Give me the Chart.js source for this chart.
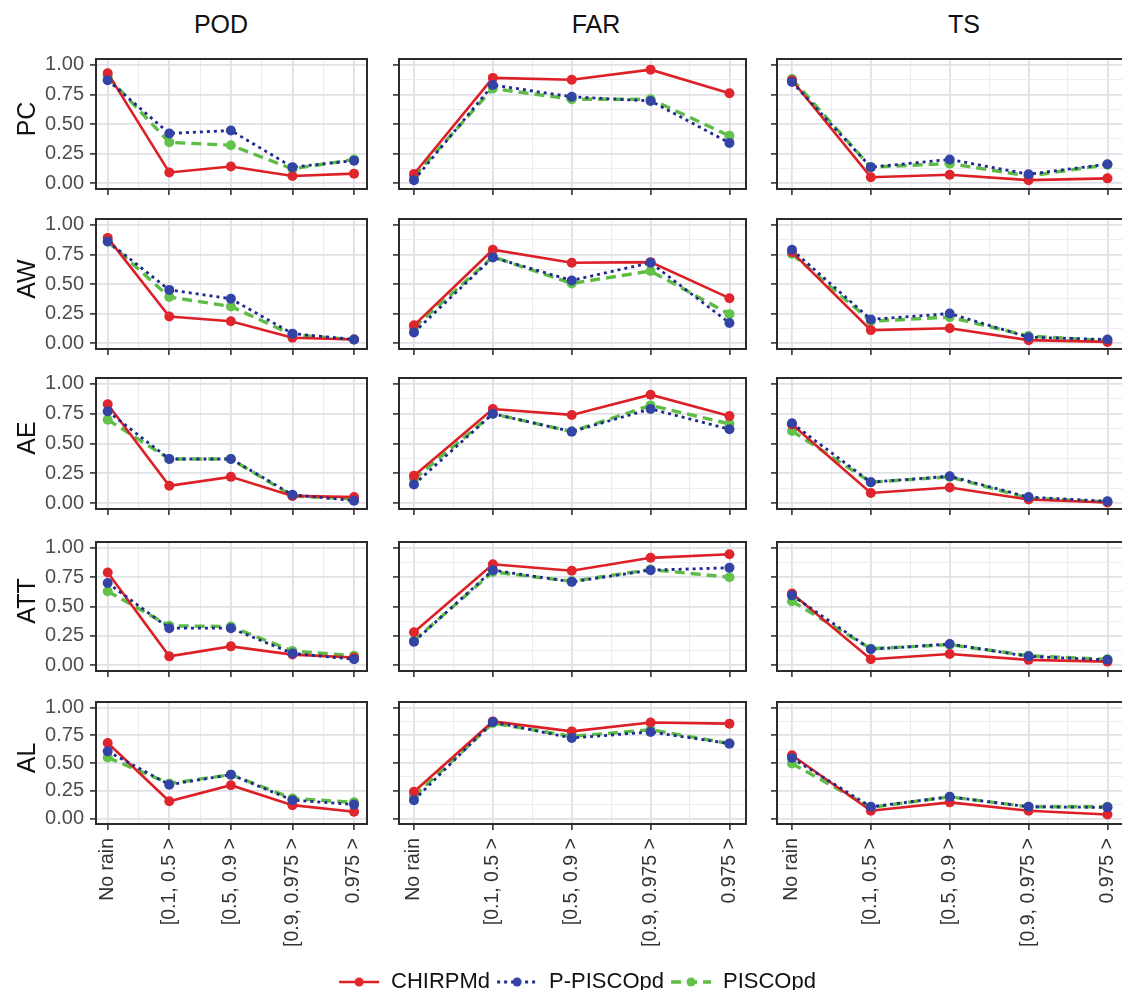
<!DOCTYPE html>
<html><head><meta charset="utf-8">
<script src="https://cdn.jsdelivr.net/npm/chart.js@4.4.1/dist/chart.umd.min.js"></script>
<style>
html,body{margin:0;padding:0;background:#fff;overflow:hidden;width:1122px;height:1001px;}
#wrap{position:relative;width:1122px;height:1001px;overflow:hidden;font-family:"Liberation Sans",Arial,sans-serif;background:#fff;}
canvas{position:absolute;}
.t{position:absolute;font-size:25px;color:#111;white-space:nowrap;transform:translate(-50%,-50%);}
.r{position:absolute;font-size:25px;color:#111;white-space:nowrap;transform:translate(-50%,-50%) rotate(-90deg);}
</style></head>
<body><div id="wrap"></div>
<script>
// ---------- data ----------
const categories = ["No rain", "[0.1, 0.5 >", "[0.5, 0.9 >", "[0.9, 0.975 >", "0.975 >"];
const metrics = ["POD", "FAR", "TS"];
const regions = ["PC", "AW", "AE", "ATT", "AL"];
const seriesNames = ["CHIRPMd", "P-PISCOpd", "PISCOpd"];
const yTickValues = [0, 0.25, 0.5, 0.75, 1];

// rows follow regions: PC, AW, AE, ATT, AL
const CHIRPMd_POD = [
  [0.93, 0.09, 0.14, 0.06, 0.08],
  [0.89, 0.225, 0.185, 0.045, 0.03],
  [0.83, 0.145, 0.22, 0.06, 0.05],
  [0.79, 0.075, 0.16, 0.09, 0.065],
  [0.68, 0.155, 0.30, 0.12, 0.06]
];
const PPISCOpd_POD = [
  [0.87, 0.42, 0.445, 0.135, 0.19],
  [0.86, 0.45, 0.375, 0.08, 0.03],
  [0.77, 0.37, 0.37, 0.07, 0.02],
  [0.70, 0.315, 0.315, 0.10, 0.05],
  [0.605, 0.305, 0.395, 0.165, 0.125]
];
const PISCOpd_POD = [
  [0.90, 0.345, 0.32, 0.12, 0.20],
  [0.86, 0.39, 0.31, 0.07, 0.03],
  [0.70, 0.37, 0.37, 0.06, 0.035],
  [0.63, 0.335, 0.33, 0.12, 0.08],
  [0.55, 0.315, 0.395, 0.18, 0.145]
];
const CHIRPMd_FAR = [
  [0.077, 0.89, 0.875, 0.96, 0.76],
  [0.15, 0.79, 0.68, 0.685, 0.38],
  [0.23, 0.79, 0.74, 0.91, 0.73],
  [0.28, 0.86, 0.805, 0.915, 0.945],
  [0.24, 0.875, 0.785, 0.865, 0.855]
];
const PPISCOpd_FAR = [
  [0.025, 0.83, 0.73, 0.695, 0.34],
  [0.09, 0.725, 0.53, 0.68, 0.17],
  [0.155, 0.75, 0.60, 0.79, 0.62],
  [0.20, 0.81, 0.71, 0.81, 0.83],
  [0.165, 0.87, 0.725, 0.78, 0.675]
];
const PISCOpd_FAR = [
  [0.057, 0.80, 0.71, 0.71, 0.40],
  [0.13, 0.73, 0.505, 0.61, 0.245],
  [0.20, 0.75, 0.60, 0.82, 0.665],
  [0.21, 0.795, 0.715, 0.815, 0.75],
  [0.20, 0.86, 0.74, 0.80, 0.675]
];
const CHIRPMd_TS = [
  [0.87, 0.05, 0.07, 0.025, 0.04],
  [0.77, 0.11, 0.125, 0.025, 0.01],
  [0.66, 0.085, 0.13, 0.03, 0.005],
  [0.61, 0.05, 0.095, 0.045, 0.03],
  [0.57, 0.07, 0.145, 0.07, 0.035]
];
const PPISCOpd_TS = [
  [0.855, 0.135, 0.20, 0.075, 0.16],
  [0.79, 0.20, 0.25, 0.05, 0.03],
  [0.67, 0.175, 0.225, 0.05, 0.015],
  [0.595, 0.135, 0.18, 0.075, 0.045],
  [0.545, 0.105, 0.195, 0.105, 0.10]
];
const PISCOpd_TS = [
  [0.88, 0.135, 0.165, 0.06, 0.155],
  [0.755, 0.185, 0.22, 0.06, 0.02],
  [0.605, 0.175, 0.22, 0.04, 0.01],
  [0.545, 0.14, 0.175, 0.08, 0.05],
  [0.495, 0.10, 0.195, 0.105, 0.105]
];

// ---------- layout & style ----------
const seriesData = {
  POD: [CHIRPMd_POD, PPISCOpd_POD, PISCOpd_POD],
  FAR: [CHIRPMd_FAR, PPISCOpd_FAR, PISCOpd_FAR],
  TS:  [CHIRPMd_TS,  PPISCOpd_TS,  PISCOpd_TS]
};
const FONT = '"Liberation Sans", Arial, sans-serif';
const colX0 = [96, 399, 777];
const colW  = [272, 348, 348];
const rowY0 = [58, 218, 377, 541, 701];
const rowY1 = [189, 349, 509, 671, 824];
const titleX = [221, 596, 964];
const lineColors  = ['#dd1f26', '#1e2a8e', '#5dbb46'];
const pointColors = ['#e0262c', '#3343a6', '#63c24a'];
const dashes = [[], [3, 4], [10, 6]];
const widths = [2.6, 2.8, 3.4];
const orders = [1, 0, 2];

const wrap = document.getElementById('wrap');

const borderPlugin = {
  id: 'panelBorder',
  afterDatasetsDraw(chart) {
    const a = chart.chartArea, ctx = chart.ctx;
    ctx.save();
    ctx.strokeStyle = '#2b2b2b';
    ctx.lineWidth = 2;
    ctx.strokeRect(a.left, a.top, a.right - a.left, a.bottom - a.top);
    ctx.restore();
  }
};

function isMajorY(v) { return Math.abs(v * 4 - Math.round(v * 4)) < 1e-9; }
function isMajorX(v) { return Math.abs(v - Math.round(v)) < 1e-9; }

function makePanel(c, r) {
  const L = c === 0 ? 96 : 12;
  const B = r === 4 ? 130 : 10;
  const T = 4, R = 4;
  const h = rowY1[r] - rowY0[r];
  const w = colW[c];
  const cv = document.createElement('canvas');
  const cw = L + w + R, ch = T + h + B;
  cv.width = cw; cv.height = ch;
  cv.style.width = cw + 'px'; cv.style.height = ch + 'px';
  cv.style.left = (colX0[c] - L) + 'px';
  cv.style.top = (rowY0[r] - T) + 'px';
  wrap.appendChild(cv);
  const m = metrics[c];
  const datasets = seriesNames.map((name, k) => ({
    label: name,
    data: seriesData[m][k][r].map((v, i) => ({ x: i, y: v })),
    borderColor: lineColors[k],
    backgroundColor: pointColors[k],
    pointBackgroundColor: pointColors[k],
    pointBorderColor: pointColors[k],
    pointBorderWidth: 0,
    pointRadius: 5,
    borderWidth: widths[k],
    borderDash: dashes[k],
    tension: 0,
    order: orders[k],
    fill: false
  }));
  new Chart(cv, {
    type: 'line',
    data: { datasets },
    plugins: [borderPlugin],
    options: {
      responsive: false,
      animation: false,
      devicePixelRatio: 1,
      events: [],
      layout: { padding: { top: T, right: R, left: 0, bottom: 0 } },
      plugins: { legend: { display: false }, tooltip: { enabled: false } },
      scales: {
        x: {
          type: 'linear', min: -0.19, max: 4.21,
          afterBuildTicks: s => { s.ticks = [0,0.5,1,1.5,2,2.5,3,3.5,4].map(v => ({ value: v })); },
          afterFit: s => { s.height = B; s.paddingLeft = 0; s.paddingRight = 0; },
          border: { display: false },
          grid: {
            color: ctx => isMajorX(ctx.tick.value) ? '#e0e0e7' : '#ebebf0',
            lineWidth: ctx => isMajorX(ctx.tick.value) ? 1.8 : 1.1,
            drawTicks: true, tickLength: 6,
            tickColor: ctx => isMajorX(ctx.tick.value) ? '#333' : 'rgba(0,0,0,0)',
            tickWidth: 1.6
          },
          ticks: {
            display: r === 4, autoSkip: false, minRotation: 90, maxRotation: 90,
            padding: 8, color: '#333',
            font: { family: FONT, size: 19.5 },
            callback: v => isMajorX(v) ? categories[Math.round(v)] : ''
          }
        },
        y: {
          type: 'linear', min: -0.05, max: 1.05,
          afterBuildTicks: s => { s.ticks = [0,0.125,0.25,0.375,0.5,0.625,0.75,0.875,1].map(v => ({ value: v })); },
          afterFit: s => { s.width = L; s.paddingTop = 0; s.paddingBottom = 0; },
          border: { display: false },
          grid: {
            color: ctx => isMajorY(ctx.tick.value) ? '#e0e0e7' : '#ebebf0',
            lineWidth: ctx => isMajorY(ctx.tick.value) ? 1.8 : 1.1,
            drawTicks: true, tickLength: 6,
            tickColor: ctx => isMajorY(ctx.tick.value) ? '#333' : 'rgba(0,0,0,0)',
            tickWidth: 1.6
          },
          ticks: {
            display: c === 0, padding: 6, color: '#4d4d4d',
            font: { family: FONT, size: 20 },
            callback: v => yTickValues.some(t => Math.abs(t - v) < 1e-9) ? v.toFixed(2) : ''
          }
        }
      }
    }
  });
}

for (let r = 0; r < regions.length; r++)
  for (let c = 0; c < metrics.length; c++) makePanel(c, r);

// facet strip titles (columns) and row labels
metrics.forEach((m, c) => {
  const d = document.createElement('div');
  d.className = 't'; d.textContent = m;
  d.style.left = titleX[c] + 'px'; d.style.top = '24px';
  wrap.appendChild(d);
});
regions.forEach((g, r) => {
  const d = document.createElement('div');
  d.className = 'r'; d.textContent = g;
  d.style.left = '26px';
  d.style.top = ((rowY0[r] + rowY1[r]) / 2 - 5) + 'px';
  wrap.appendChild(d);
});

// legend
function sample(k) {
  const s = document.createElement('canvas');
  s.width = 42; s.height = 14;
  const x = s.getContext('2d');
  x.strokeStyle = lineColors[k]; x.lineWidth = widths[k];
  x.setLineDash(dashes[k]);
  x.beginPath(); x.moveTo(1, 7); x.lineTo(41, 7); x.stroke();
  x.setLineDash([]);
  x.fillStyle = pointColors[k];
  x.beginPath(); x.arc(21, 7, 4.5, 0, Math.PI * 2); x.fill();
  return s;
}
const lc = document.createElement('canvas');
lc.width = 560; lc.height = 50;
lc.style.width = '560px'; lc.style.height = '50px';
lc.style.left = '297px'; lc.style.top = '965px';
wrap.appendChild(lc);
new Chart(lc, {
  type: 'line',
  data: { datasets: seriesNames.map((n, k) => ({ label: n, data: [], borderColor: lineColors[k], backgroundColor: pointColors[k] })) },
  options: {
    responsive: false, animation: false, devicePixelRatio: 1, events: [],
    scales: { x: { display: false }, y: { display: false } },
    plugins: {
      tooltip: { enabled: false },
      legend: {
        display: true, position: 'top',
        labels: {
          usePointStyle: true, pointStyleWidth: 42, padding: 6,
          color: '#111', font: { family: FONT, size: 22 },
          generateLabels: chart => chart.data.datasets.map((d, k) => ({
            text: d.label, pointStyle: sample(k), fillStyle: pointColors[k],
            strokeStyle: lineColors[k], lineWidth: 0, hidden: false, datasetIndex: k, fontColor: '#111'
          }))
        }
      }
    }
  }
});
</script>
</body></html>
